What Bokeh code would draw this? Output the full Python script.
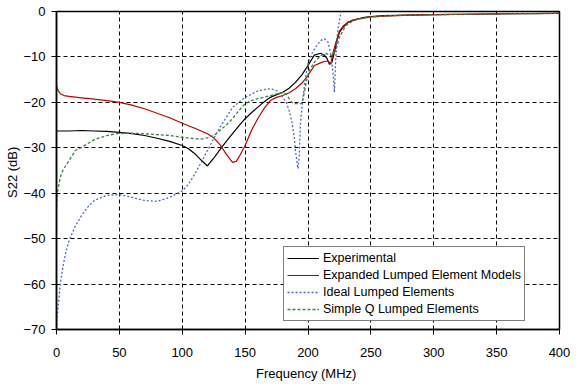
from bokeh.plotting import figure
from bokeh.models import Legend, LegendItem, Range1d, FixedTicker
from bokeh.embed import file_html
from bokeh.resources import INLINE

# ---- data ----
f_exp = [0, 10, 20, 30, 40, 50, 60, 70, 80, 90, 100, 105, 110, 115, 120, 125, 130, 135, 140, 145,
         150, 155, 160, 165, 170, 175, 180, 185, 190, 195, 200, 205, 210, 213, 215, 217, 219, 221,
         223, 225, 228, 232, 236, 240, 245, 250, 260, 280, 300, 330, 360, 400]
s_exp = [-26.3, -26.3, -26.2, -26.3, -26.4, -26.6, -26.9, -27.3, -27.9, -28.6, -29.5, -30.2, -31.3,
         -32.7, -34.0, -32.3, -30.4, -28.6, -26.9, -25.2, -23.6, -22.3, -21.1, -19.9, -18.9, -18.3,
         -17.8, -16.9, -15.6, -14.0, -11.9, -9.6, -9.2, -9.6, -10.3, -11.6, -11.2, -9.0, -6.5, -4.6,
         -3.4, -2.4, -1.9, -1.6, -1.3, -1.1, -0.9, -0.8, -0.7, -0.6, -0.5, -0.4]

f_exp_lump = [0, 1, 3, 6, 10, 20, 30, 40, 50, 60, 70, 80, 90, 100, 110, 120, 125, 130, 135, 140,
              143, 146, 150, 155, 160, 165, 170, 175, 180, 185, 190, 195, 200, 205, 210, 213, 216,
              218, 220, 222, 225, 228, 232, 236, 240, 250, 260, 280, 300, 330, 360, 400]
s_exp_lump = [-16.3, -17.2, -18.1, -18.5, -18.7, -19.0, -19.3, -19.6, -20.0, -20.6, -21.4, -22.4,
              -23.4, -24.6, -25.7, -26.9, -27.8, -29.3, -31.4, -33.2, -33.0, -31.6, -29.5, -26.2,
              -23.6, -21.4, -19.6, -18.9, -18.5, -17.9, -17.0, -15.8, -14.1, -11.9, -11.3, -11.0,
              -10.9, -11.6, -9.0, -7.0, -4.3, -3.2, -2.3, -1.9, -1.6, -1.2, -1.0, -0.8, -0.7, -0.6,
              -0.5, -0.4]

f_ideal = [0, 0.5, 1, 2, 3, 5, 7, 10, 15, 20, 25, 30, 40, 50, 60, 70, 80, 90, 100, 105, 110, 115,
           120, 125, 130, 135, 140, 150, 160, 165, 170, 175, 180, 183, 185, 187, 189, 190, 191, 192,
           193, 194, 196, 198, 200, 203, 206, 210, 213, 216, 218, 219, 220, 221, 222, 223, 224, 226,
           228, 230, 240, 300, 400]
s_ideal = [-70, -68, -66, -63, -60, -56.4, -53.5, -50.4, -47.2, -44.9, -43.0, -41.6, -40.5, -40.3,
           -40.9, -41.6, -41.8, -40.9, -39.5, -38.0, -35.8, -33.3, -30.6, -28.0, -25.5, -23.3,
           -21.1, -18.9, -17.5, -17.2, -17.0, -17.4, -18.9, -20.2, -21.8, -24.0, -27.5, -30.6,
           -32.5, -34.6, -32.0, -24.7, -18.9, -14.5, -11.5, -9.3, -7.9, -6.4, -6.0, -6.8, -9.3,
           -11.5, -13.7, -17.8, -10.8, -6.0, -3.5, -0.5, 0.9, 1.5, 1.0, 0.5, 0.3]

f_simpq = [0, 1, 3, 5, 10, 15, 20, 30, 40, 50, 60, 70, 80, 90, 100, 110, 115, 120, 125, 130, 135,
           140, 145, 150, 155, 160, 170, 180, 183, 186, 188, 190, 195, 197, 199, 201, 205, 210, 215,
           218, 220, 222, 225, 230, 235, 240, 250, 260, 280, 300, 330, 360, 400]
s_simpq = [-43, -39.4, -36.5, -35.0, -32.8, -30.6, -29.9, -28.2, -27.3, -26.8, -26.8, -26.9, -27.1,
           -27.3, -27.7, -28.0, -28.1, -27.8, -27.3, -26.2, -25.0, -23.6, -21.8, -20.3, -19.6,
           -19.2, -18.5, -17.8, -18.3, -19.6, -20.2, -20.3, -20.3, -18.0, -15.0, -13.0, -11.2,
           -9.7, -9.3, -9.7, -9.5, -8.6, -5.7, -3.1, -2.2, -1.7, -1.2, -1.0, -0.8, -0.7, -0.6,
           -0.5, -0.4]

series_names = ["Experimental", "Expanded Lumped Element Models",
                "Ideal Lumped Elements", "Simple Q Lumped Elements"]
x_ticks = [0, 50, 100, 150, 200, 250, 300, 350, 400]
y_ticks = [0, -10, -20, -30, -40, -50, -60, -70]

FONT = "Liberation Sans"

p = figure(width=578, height=391, output_backend="svg", toolbar_location=None,
           x_range=Range1d(0, 400), y_range=Range1d(-70, 0),
           min_border_left=56, min_border_right=19, min_border_top=11, min_border_bottom=62)
p.background_fill_color = "white"
p.border_fill_color = "white"
p.outline_line_color = "black"
p.outline_line_width = 1.5

p.xaxis.ticker = FixedTicker(ticks=x_ticks)
p.yaxis.ticker = FixedTicker(ticks=y_ticks)
for ax in (p.xaxis[0], p.yaxis[0]):
    ax.major_label_text_font = FONT
    ax.major_label_text_font_size = "13px"
    ax.major_label_text_color = "black"
    ax.axis_label_text_font = FONT
    ax.axis_label_text_font_size = "13px"
    ax.axis_label_text_font_style = "normal"
    ax.axis_label_text_color = "black"
    ax.axis_line_color = "black"
    ax.axis_line_width = 1.5
    ax.major_tick_line_color = "black"
    ax.major_tick_out = 5
    ax.major_tick_in = 0
    ax.minor_tick_line_color = None

p.xaxis.axis_label = "Frequency  (MHz)"
p.yaxis.axis_label = "S22  (dB)"
p.xaxis.major_label_standoff = 13
p.xaxis.axis_label_standoff = 6
p.yaxis.major_label_standoff = 6
p.yaxis.axis_label_standoff = 0

p.grid.grid_line_color = "black"
p.grid.grid_line_dash = "4 3"
p.grid.grid_line_width = 1

r1 = p.line(f_exp, s_exp, line_color="black", line_width=1.2)
r2 = p.line(f_exp_lump, s_exp_lump, line_color="#C00000", line_width=1.2)
r3 = p.line(f_ideal, s_ideal, line_color="#4A6FB0", line_width=1.3, line_dash="2 2")
r4 = p.line(f_simpq, s_simpq, line_color="#3E823E", line_width=1.3, line_dash="3 2")

legend = Legend(items=[LegendItem(label=n, renderers=[r]) for n, r in
                       zip(series_names, [r1, r2, r3, r4])],
                location=(227, 8))
legend.label_text_font = FONT
legend.label_text_font_size = "12.5px"
legend.label_text_color = "black"
legend.border_line_color = "black"
legend.border_line_width = 1.2
legend.background_fill_color = "white"
legend.background_fill_alpha = 1
legend.padding = 3
legend.spacing = 1
legend.margin = 0
legend.glyph_width = 32
legend.glyph_height = 16
legend.label_height = 16
legend.label_standoff = 4
p.add_layout(legend, "center")

open("out.html", "w").write(file_html(p, INLINE))
